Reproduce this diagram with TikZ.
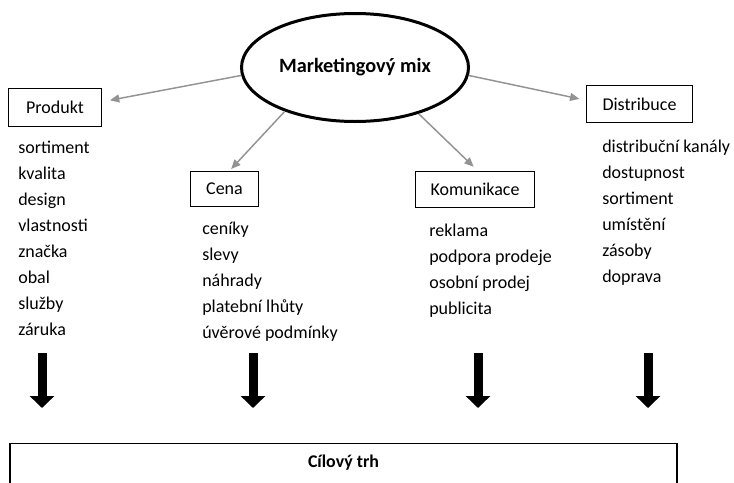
\documentclass[tikz,border=0pt]{standalone}
\usepackage{fontspec}
\setmainfont{Carlito}
\usepackage{tikz}
\usetikzlibrary{arrows.meta, shapes.geometric}

\begin{document}
\begin{tikzpicture}[
  x=0.75pt, y=-0.75pt,
  every node/.style = {font=\fontsize{13.5}{19.5}\selectfont, inner sep=0pt},
  box/.style        = {draw, line width=0.9pt},
  item/.style       = {anchor=base west},
  link/.style       = {-{Triangle[width=6pt, length=7pt]}, line width=1.1pt, gray!85},
  flow/.style       = {-{Triangle[width=18pt, length=9pt]}, line width=6.75pt, black},
]

%% ── Page: 734 x 482 px, y runs down ─────────────────────────────────────
\useasboundingbox (0,0) rectangle (734,482);
\clip (0,0) rectangle (734,482);

\def\lh{26}   % line step of the lists

% ── Centre ellipse ───────────────────────────────────────────────────────
\node[ellipse, draw, line width=2.25pt, minimum width=170.25pt, minimum height=81pt,
      font=\bfseries\fontsize{15.2}{18}\selectfont]
  (mix) at (355,67.5) {Marketingový mix};

% ── The four P boxes ─────────────────────────────────────────────────────
\node[box, minimum width=69.75pt, minimum height=28.5pt]  (produkt) at (55,107.5)  {Produkt};
\node[box, minimum width=51pt,    minimum height=26.25pt] (cena)    at (224.5,189) {Cena};
\node[box, minimum width=89.25pt, minimum height=27pt]    (komu)    at (475,189.5) {Komunikace};
\node[box, minimum width=79.5pt,  minimum height=27.75pt] (distr)   at (639.5,104) {Distribuce};

% Links from the mix
\draw[link, shorten >=6pt]   (mix.184) -- (produkt.7);
\draw[link, shorten >=2pt]   (mix.212) -- (cena.75);
\draw[link, shorten >=4.5pt] (mix.324) -- (komu.81);
\draw[link, shorten >=5pt]   (mix.356) -- (distr.176);

% ── Item lists ───────────────────────────────────────────────────────────
\foreach \t [count=\i] in {sortiment, kvalita, design, vlastnosti, značka, obal, služby, záruka}
  \node[item] (prod\i) at (18, 153+\lh*\i-\lh) {\t};

\foreach \t [count=\i] in {ceníky, slevy, náhrady, platební lhůty, úvěrové podmínky}
  \node[item] (cen\i) at (202, 234+\lh*\i-\lh) {\t};

\foreach \t [count=\i] in {reklama, podpora prodeje, osobní prodej, publicita}
  \node[item] (kom\i) at (429, 236+\lh*\i-\lh) {\t};

\foreach \t [count=\i] in {distribuční kanály, dostupnost, sortiment, umístění, zásoby, doprava}
  \node[item] (dis\i) at (602, 152+\lh*\i-\lh) {\t};

% ── Down arrows ──────────────────────────────────────────────────────────
\foreach \x [count=\i] in {42, 253, 478, 648} {
  \coordinate (top\i) at (\x,353);
  \coordinate (tip\i) at (\x,408);
  \draw[flow] (top\i) -- (tip\i);
}

% ── Target market (box runs off the page) ───────────────────────────────
\node[draw, line width=1.1pt, anchor=north, minimum width=500.25pt,
      text height=18pt, text depth=45pt, font=\bfseries\fontsize{13.4}{16}\selectfont]
  (trh) at (343.5,443) {Cílový trh};

\end{tikzpicture}
\end{document}
